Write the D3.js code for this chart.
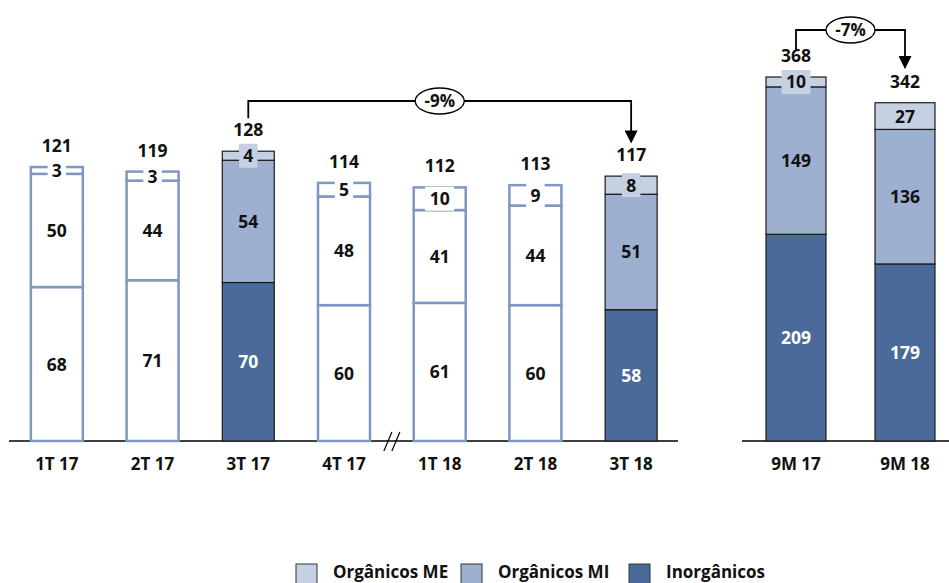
<!DOCTYPE html>
<html>
<head>
<meta charset="utf-8">
<script src="https://cdn.jsdelivr.net/npm/d3@7"></script>
<style>
  html, body { margin: 0; padding: 0; background: #fff; }
  svg { display: block; }
  svg text { font-family: "Open Sans", Lato, sans-serif; font-weight: 700; }
</style>
</head>
<body>
<svg id="chart" width="949" height="583"></svg>
<script>
// Quarterly series
const categories = ["1T 17", "2T 17", "3T 17", "4T 17", "1T 18", "2T 18", "3T 18"];
const inorganicos = [68, 71, 70, 60, 61, 60, 58];
const organicosMI = [50, 44, 54, 48, 41, 44, 51];
const organicosME = [3, 3, 4, 5, 10, 9, 8];
const totals = [121, 119, 128, 114, 112, 113, 117];
const highlighted = ["3T 17", "3T 18"];

// Year-to-date series
const ytdCategories = ["9M 17", "9M 18"];
const ytdInorganicos = [209, 179];
const ytdOrganicosMI = [149, 136];
const ytdOrganicosME = [10, 27];
const ytdTotals = [368, 342];

const changeQuarter = "-9%";
const changeYtd = "-7%";
const legendLabels = ["Orgânicos ME", "Orgânicos MI", "Inorgânicos"];

const colors = { ME: "#c5d0e3", MI: "#9eb0cf", IN: "#4a6a9a" };
const outline = "#7f97c3";

const svg = d3.select("#chart");
const baseY = 441;

// Left panel scales
const xL = d3.scaleBand().domain(categories).range([9, 679]).paddingInner(0.457).paddingOuter(0.2285);
const yL = d3.scaleLinear().domain([0, 130]).range([baseY, baseY - 130 * 2.264]);

// Right panel scales
const xR = d3.scaleBand().domain(ytdCategories).range([741.5, 959.5]).paddingInner(0.45).paddingOuter(0.225);
const yR = d3.scaleLinear().domain([0, 368]).range([baseY, 77]);

function stackRows(cats, inn, mi, me, tot) {
  return cats.map((c, i) => ({
    cat: c,
    segs: [
      { key: "IN", v0: 0, v1: inn[i], val: inn[i] },
      { key: "MI", v0: inn[i], v1: inn[i] + mi[i], val: mi[i] },
      { key: "ME", v0: inn[i] + mi[i], v1: tot[i], val: me[i] }
    ],
    total: tot[i],
    filled: true
  }));
}

const leftRows = stackRows(categories, inorganicos, organicosMI, organicosME, totals)
  .map(r => ({ ...r, filled: highlighted.includes(r.cat) }));
const rightRows = stackRows(ytdCategories, ytdInorganicos, ytdOrganicosMI, ytdOrganicosME, ytdTotals);

function drawPanel(rows, x, y, axisRange, g) {
  // baseline
  g.append("line").attr("x1", axisRange[0]).attr("x2", axisRange[1])
    .attr("y1", baseY).attr("y2", baseY).attr("stroke", "#000").attr("stroke-width", 1.3);

  const bars = g.selectAll("g.bar").data(rows).join("g").attr("class", "bar");
  bars.each(function(d) {
    const bg = d3.select(this);
    const bx = x(d.cat), bw = x.bandwidth();
    d.segs.forEach(s => {
      bg.append("rect")
        .attr("x", bx).attr("width", bw)
        .attr("y", y(s.v1)).attr("height", y(s.v0) - y(s.v1))
        .attr("fill", d.filled ? colors[s.key] : "#fff")
        .attr("stroke", d.filled ? "#1a1a1a" : outline)
        .attr("stroke-width", d.filled ? 1.2 : 2.5);
    });
    const cx = bx + bw / 2;
    d.segs.forEach(s => {
      const cy = (y(s.v0) + y(s.v1)) / 2;
      if (s.key === "ME") {
        const txt = String(s.val);
        const w = txt.length * 10.5 + 8;
        bg.append("rect").attr("x", cx - w / 2).attr("y", cy - 12)
          .attr("width", w).attr("height", 24)
          .attr("fill", d.filled ? colors.ME : "#fff");
      }
      bg.append("text").attr("x", cx).attr("y", cy + 6.5)
        .attr("text-anchor", "middle")
        .attr("font-size", 17.5)
        .attr("fill", d.filled && s.key === "IN" ? "#fff" : "#111")
        .text(s.val);
    });
    bg.append("text").attr("x", cx).attr("y", y(d.total) - 15)
      .attr("text-anchor", "middle")
      .attr("font-size", 17.5).attr("fill", "#111").text(d.total);
    bg.append("text").attr("x", cx).attr("y", baseY + 28.5)
      .attr("text-anchor", "middle")
      .attr("font-size", 17).attr("fill", "#111").text(d.cat);
  });
}

const gL = svg.append("g");
drawPanel(leftRows, xL, yL, [9, 678], gL);
const gR = svg.append("g");
drawPanel(rightRows, xR, yR, [742, 949], gR);

// axis break between 4T 17 and 1T 18
const breakX = (xL("4T 17") + xL.bandwidth() + xL("1T 18")) / 2;
[-4, 4].forEach(dx => {
  svg.append("line")
    .attr("x1", breakX + dx - 4).attr("y1", baseY + 10)
    .attr("x2", breakX + dx + 4).attr("y2", baseY - 9)
    .attr("stroke", "#000").attr("stroke-width", 1.2);
});

// arrow marker
svg.append("defs").append("marker")
  .attr("id", "arrowHead").attr("viewBox", "0 0 10 10")
  .attr("refX", 9).attr("refY", 5)
  .attr("markerWidth", 13).attr("markerHeight", 13)
  .attr("markerUnits", "userSpaceOnUse").attr("orient", "auto")
  .append("path").attr("d", "M0,0 L10,5 L0,10 Z").attr("fill", "#000");

function changeBracket(x1, yStart, x2, yEnd, topY, label) {
  svg.append("path")
    .attr("d", `M${x1},${yStart} V${topY} H${x2} V${yEnd}`)
    .attr("fill", "none").attr("stroke", "#000").attr("stroke-width", 1.8)
    .attr("marker-end", "url(#arrowHead)");
  const mx = (x1 + x2) / 2;
  svg.append("ellipse").attr("cx", mx).attr("cy", topY).attr("rx", 24.5).attr("ry", 13)
    .attr("fill", "#fff").attr("stroke", "#000").attr("stroke-width", 1.3);
  svg.append("text").attr("x", mx).attr("y", topY + 6)
    .attr("text-anchor", "middle")
    .attr("font-size", 17).attr("fill", "#111").text(label);
}

const c3T17 = xL("3T 17") + xL.bandwidth() / 2;
const c3T18 = xL("3T 18") + xL.bandwidth() / 2;
changeBracket(c3T17, yL(128) - 33, c3T18, yL(117) - 34, 101, changeQuarter);

const c9M17 = xR("9M 17") + xR.bandwidth() / 2;
const c9M18 = xR("9M 18") + xR.bandwidth() / 2;
changeBracket(c9M17, yR(368) - 27, c9M18, yR(342) - 35, 30, changeYtd);

// legend
const legendKeys = ["ME", "MI", "IN"];
const legendX = [296, 461, 629];
legendKeys.forEach((k, i) => {
  svg.append("rect").attr("x", legendX[i]).attr("y", 564).attr("width", 21).attr("height", 20)
    .attr("fill", colors[k]).attr("stroke", "#333").attr("stroke-width", 1);
  svg.append("text").attr("x", legendX[i] + 37).attr("y", 578)
    .attr("font-size", 17).attr("fill", "#111")
    .text(legendLabels[i]);
});
</script>
</body>
</html>
